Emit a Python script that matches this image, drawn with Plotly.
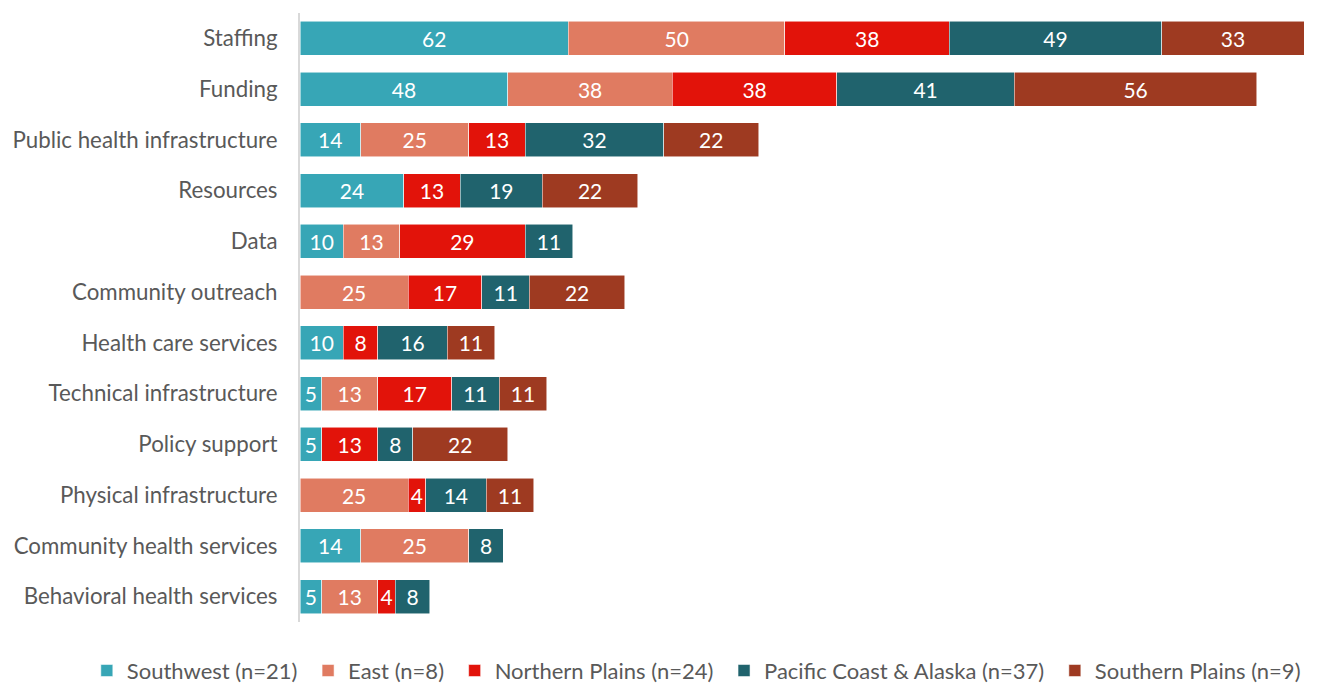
import plotly.graph_objects as go

categories = ["Staffing", "Funding", "Public health infrastructure", "Resources", "Data",
              "Community outreach", "Health care services", "Technical infrastructure",
              "Policy support", "Physical infrastructure", "Community health services",
              "Behavioral health services"]

southwest = [62, 48, 14, 24, 10, None, 10, 5, 5, None, 14, 5]
east = [50, 38, 25, None, 13, 25, None, 13, None, 25, 25, 13]
northern_plains = [38, 38, 13, 13, 29, 17, 8, 17, 13, 4, None, 4]
pacific_coast = [49, 41, 32, 19, 11, 11, 16, 11, 8, 14, 8, 8]
southern_plains = [33, 56, 22, 22, None, 22, 11, 11, 22, 11, None, None]

series_names = ["Southwest (n=21)", "East (n=8)", "Northern Plains (n=24)",
                "Pacific Coast & Alaska (n=37)", "Southern Plains (n=9)"]
series_values = [southwest, east, northern_plains, pacific_coast, southern_plains]
colors = ["#37A6B6", "#E07B61", "#E2130A", "#20636D", "#9E3A21"]

FONT = "Lato, Calibri, Carlito, sans-serif"

fig = go.Figure()
for name, vals, col in zip(series_names, series_values, colors):
    fig.add_trace(go.Bar(
        y=categories, x=vals, name=name + "\u00a0", orientation="h",
        marker=dict(color=col, line=dict(color="rgba(255,255,255,0.7)", width=0.75)),
        text=[("" if v is None else str(v)) for v in vals],
        textposition="inside", insidetextanchor="middle", textangle=0,
        textfont=dict(color="white", size=21, family=FONT),
        hoverinfo="x+name",
    ))

fig.update_layout(
    barmode="stack",
    bargap=0.33,
    width=1312, height=677,
    margin=dict(l=292, r=0, t=4.6, b=62.6, autoexpand=False),
    paper_bgcolor="white", plot_bgcolor="white",
    font=dict(family=FONT, color="#595959", size=21),
    uniformtext=dict(minsize=21, mode="show"),
    xaxis=dict(range=[0, 235.6], showticklabels=False, showgrid=False, zeroline=False,
               showline=False, fixedrange=True, automargin=False),
    yaxis=dict(categoryorder="array", categoryarray=categories, autorange="reversed",
               showline=True, linecolor="#D9D9D9", linewidth=2, ticks="", automargin=False,
               ticklabelstandoff=16, tickfont=dict(size=22.3, color="#595959", family=FONT),
               showgrid=False),
    legend=dict(orientation="h", x=-0.209, xanchor="left", y=-0.080, yanchor="middle",
                font=dict(size=22, color="#595959", family=FONT),
                itemwidth=30, traceorder="normal", tracegroupgap=0),
)

fig.write_html("out.html")
